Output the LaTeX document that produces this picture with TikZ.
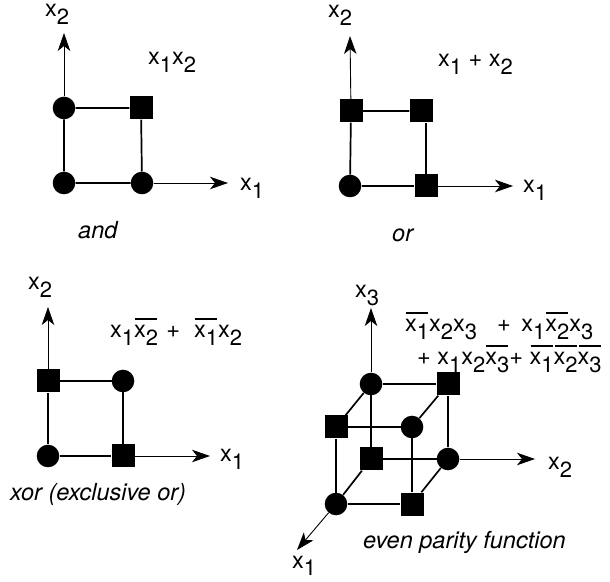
\documentclass[tikz,border=0pt]{standalone}
\usepackage{fontspec}
\setmainfont{TeX Gyre Heros}
\usetikzlibrary{arrows.meta}
% variable with subscript, and the same with a bar over it
\newcommand{\xs}[1]{x\raisebox{-0.33em}{\fontsize{22}{22}\selectfont #1}}
\newcommand{\nb}[1]{\setbox0\hbox{#1}\rlap{\kern0.04em\raisebox{0.78em}{\rule{\dimexpr\wd0-0.08em\relax}{0.085em}}}\box0}
\begin{document}
\begin{tikzpicture}[x=1pt,y=1pt,font=\fontsize{23.5}{28}\selectfont,
  zero/.style={circle,fill,inner sep=0pt,minimum size=22.6pt},
  one/.style={rectangle,fill,inner sep=0pt,minimum size=23pt},
  edge/.style={line width=1.7pt},
  axis/.style={line width=0.9pt,-{Stealth[length=18pt,width=12.5pt,inset=5pt]}},
  lbl/.style={anchor=base west,inner sep=0pt},
  capt/.style={lbl,font=\fontsize{23.5}{28}\selectfont\itshape}]
  \useasboundingbox (0,0) rectangle (610,581);

  % and
  \node[zero] (a00) at (64,398) {};
  \node[zero] (a10) at (142,398) {};
  \node[zero] (a01) at (64,473) {};
  \node[one]  (a11) at (141,473) {};
  \coordinate (a1) at (228,398);
  \coordinate (a2) at (64,548);
  \draw[axis] (a10) -- (a1);
  \draw[axis] (a01) -- (a2);
  \draw[edge] (a00) -- (a10) -- (a11) -- (a01) -- (a00);
  \node[lbl] (a1l) at (240,390) {\xs{1}};
  \node[lbl] (a2l) at (45,564) {\xs{2}};
  \node[lbl] (af) at (148,516) {\xs{1}\xs{2}};
  \node[capt] (an) at (78,342) {and};

  % or
  \node[zero] (b00) at (350,395) {};
  \node[one]  (b10) at (426,395) {};
  \node[one]  (b01) at (351,470) {};
  \node[one]  (b11) at (421,470) {};
  \coordinate (b1) at (513,395);
  \coordinate (b2) at (350,545);
  \draw[axis] (b10) -- (b1);
  \draw[axis] (b01) -- (b2);
  \draw[edge] (b00) -- (b10) -- (b10 |- b11.south);
  \draw[edge] (b11) -- (b01) -- (b00);
  \node[lbl] (b1l) at (523,388) {\xs{1}};
  \node[lbl] (b2l) at (328,563) {\xs{2}};
  \node[lbl] (bf) at (438,514) {\xs{1} + \xs{2}};
  \node[capt] (bn) at (392,339) {or};

  % xor
  \node[zero] (c00) at (48,125) {};
  \node[one]  (c10) at (123,125) {};
  \node[one]  (c01) at (48,200) {};
  \node[zero] (c11) at (123,200) {};
  \coordinate (c1) at (210,125);
  \coordinate (c2) at (48,274);
  \draw[axis] (c10) -- (c1);
  \draw[axis] (c01) -- (c2);
  \draw[edge] (c00) -- (c10) -- (c11) -- (c01) -- (c00);
  \node[lbl] (c1l) at (220,119) {\xs{1}};
  \node[lbl] (c2l) at (28,291) {\xs{2}};
  \node[lbl] (cf) at (110,243) {\xs{1}\nb{\xs{2}}\hspace{0.35em}+\hspace{0.6em}\nb{\xs{1}}\xs{2}};
  \node[capt] (cn) at (10,81) {xor (exclusive or)};

  % even parity (d<x1><x2><x3>)
  \node[one]  (d000) at (371,122) {};
  \node[zero] (d010) at (448,122) {};
  \node[zero] (d001) at (371,197) {};
  \node[one]  (d011) at (448,197) {};
  \node[zero] (d100) at (336,77) {};
  \node[one]  (d110) at (412,77) {};
  \node[one]  (d101) at (336,154) {};
  \node[zero] (d111) at (412,154) {};
  \coordinate (d1) at (297,31);
  \coordinate (d2) at (535,122);
  \coordinate (d3) at (371,273);
  \draw[axis] (d100) -- (d1);
  \draw[axis] (d010) -- (d2);
  \draw[axis] (d001) -- (d3);
  \draw[edge] (d000) -- (d010) -- (d011) -- (d001) -- (d000);
  \draw[edge] (d100) -- (d110) -- (d111) -- (d101) -- (d100);
  \draw[edge] (d000) -- (d100);
  \draw[edge] (d010) -- (d110);
  \draw[edge] (d001) -- (d101);
  \draw[edge] (d011) -- (d111);
  \node[lbl] (d1l) at (292,13) {\xs{1}};
  \node[lbl] (d2l) at (548,111) {\xs{2}};
  \node[lbl] (d3l) at (355,283) {\xs{3}};
  \node[lbl] (df1) at (405,249) {\nb{\xs{1}}\xs{2}\xs{3}\hspace{0.85em}+\hspace{0.45em}\xs{1}\nb{\xs{2}}\xs{3}};
  \node[lbl] (df2) at (417,216) {+ \xs{1}\xs{2}\nb{\xs{3}} + \nb{\xs{1}}\nb{\xs{2}}\nb{\xs{3}}};
  \node[capt] (dn) at (363,33) {even parity function};
\end{tikzpicture}
\end{document}
